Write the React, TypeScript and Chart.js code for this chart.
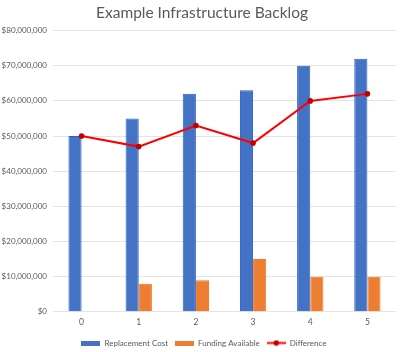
import React, { useEffect, useRef } from "react";
import { Chart, registerables } from "chart.js";

Chart.register(...registerables);

const categories = ["0", "1", "2", "3", "4", "5"];
const replacementCost = [50000000, 55000000, 62000000, 63000000, 70000000, 72000000];
const fundingAvailable = [0, 8000000, 9000000, 15000000, 10000000, 10000000];
const difference = [50000000, 47000000, 53000000, 48000000, 60000000, 62000000];
const seriesNames = ["Replacement Cost", "Funding Available", "Difference"];
const titleText = "Example Infrastructure Backlog";

const BLUE = "#4472c4";
const ORANGE = "#ed7d31";
const RED = "#ff0000";
const FONT = "Lato, 'Open Sans', sans-serif";

function makeBoxImg(color: string): HTMLCanvasElement {
  const c = document.createElement("canvas");
  c.width = 19;
  c.height = 5;
  const x = c.getContext("2d")!;
  x.fillStyle = color;
  x.fillRect(0, 0, 19, 5);
  return c;
}

function makeLineImg(): HTMLCanvasElement {
  const c = document.createElement("canvas");
  c.width = 19;
  c.height = 7;
  const x = c.getContext("2d")!;
  x.strokeStyle = RED;
  x.lineWidth = 2;
  x.beginPath();
  x.moveTo(0, 3.5);
  x.lineTo(19, 3.5);
  x.stroke();
  x.fillStyle = "#c00000";
  x.beginPath();
  x.arc(9.5, 3.5, 2.8, 0, Math.PI * 2);
  x.fill();
  return c;
}

function fmt(v: number): string {
  return "$" + v.toLocaleString("en-US");
}

const shiftPlugin = {
  id: "shiftBlocks",
  afterLayout(chart: any) {
    if (chart.legend) {
      chart.legend.left += 6;
      chart.legend.right += 6;
    }
    if (chart.titleBlock) {
      chart.titleBlock.left += 4;
      chart.titleBlock.right += 4;
    }
  },
};

export default function App() {
  const ref = useRef<HTMLCanvasElement | null>(null);

  useEffect(() => {
    document.body.style.margin = "0";
    const imgs = [makeBoxImg(BLUE), makeBoxImg(ORANGE), makeLineImg()];
    const chart = new Chart(ref.current!, {
      data: {
        labels: categories,
        datasets: [
          {
            type: "bar",
            label: seriesNames[0],
            data: replacementCost,
            backgroundColor: BLUE,
            borderColor: "#2a62c9",
            borderWidth: 1,
            categoryPercentage: 0.46,
            barPercentage: 1,
            order: 2,
          },
          {
            type: "bar",
            label: seriesNames[1],
            data: fundingAvailable,
            backgroundColor: ORANGE,
            borderColor: "#f0761f",
            borderWidth: 1,
            categoryPercentage: 0.46,
            barPercentage: 1,
            order: 2,
          },
          {
            type: "line",
            label: seriesNames[2],
            data: difference,
            borderColor: RED,
            borderWidth: 2,
            pointRadius: 2.8,
            pointBackgroundColor: "#c00000",
            pointBorderColor: "#c00000",
            pointBorderWidth: 0,
            tension: 0,
            order: 1,
          },
        ] as any,
      },
      plugins: [shiftPlugin],
      options: {
        responsive: false,
        animation: false,
        layout: { padding: { top: 2, right: 4, left: 0, bottom: -5 } },
        plugins: {
          title: {
            display: true,
            text: titleText,
            color: "#595959",
            font: { family: FONT, size: 15.5, weight: "normal" },
            padding: { top: 2, bottom: 8 },
          },
          legend: {
            position: "bottom",
            labels: {
              usePointStyle: true,
              pointStyleWidth: 19,
              boxHeight: 5,
              padding: 7,
              color: "#595959",
              font: { family: FONT, size: 8 },
              generateLabels: (ch: any) =>
                ch.data.datasets.map((d: any, i: number) => ({
                  text: d.label,
                  pointStyle: imgs[i],
                  fillStyle: "transparent",
                  strokeStyle: "transparent",
                  lineWidth: 0,
                  datasetIndex: i,
                  hidden: false,
                  fontColor: "#595959",
                })),
            },
          },
          tooltip: { enabled: false },
        },
        scales: {
          x: {
            grid: { display: false, drawTicks: false },
            border: { display: false },
            ticks: { color: "#595959", font: { family: FONT, size: 8.5 }, padding: 5 },
          },
          y: {
            min: 0,
            max: 80000000,
            afterFit: (s: any) => {
              s.width = 53;
            },
            ticks: {
              stepSize: 10000000,
              color: "#595959",
              font: { family: FONT, size: 8 },
              padding: 6,
              callback: (v: any) => fmt(Number(v)),
            },
            grid: { color: "#e4e4e4", lineWidth: 1, drawTicks: false },
            border: { display: false },
          },
        },
      } as any,
    });
    return () => chart.destroy();
  }, []);

  return <canvas ref={ref} width={400} height={352} />;
}
